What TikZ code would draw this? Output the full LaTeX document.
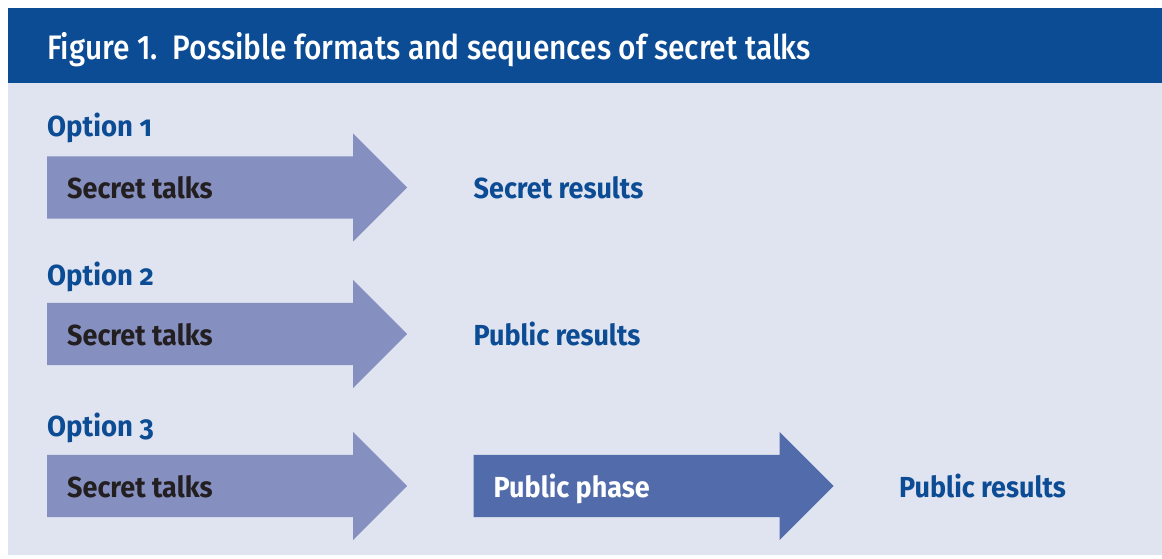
\documentclass[tikz,border=0pt]{standalone}
\usepackage{fontspec}
\setmainfont{Fira Sans}[FakeStretch=0.93]
\newfontfamily\titlefont{Fira Sans Medium}[FakeStretch=0.88]
\newfontfamily\oldnum{Fira Sans}[Numbers=OldStyle,FakeStretch=0.95]
\usetikzlibrary{shapes.arrows,positioning}

\definecolor{headblue}{HTML}{0C4C94}
\definecolor{paleback}{HTML}{E0E4F0}
\definecolor{talkfill}{HTML}{8590C0}
\definecolor{phasefill}{HTML}{516BAB}
\definecolor{talkink}{HTML}{231F20}

\begin{document}
\begin{tikzpicture}[x=1pt,y=-1pt,
    bigarrow/.style={single arrow,anchor=tail,inner xsep=0pt,inner ysep=31pt,minimum height=360pt,
      single arrow head extend=23pt,single arrow tip angle=90},
    inarrow/.style={font=\bfseries\fontsize{29}{34}\selectfont,inner sep=0pt,text depth=0pt,right=20pt},
    optlabel/.style={anchor=base west,inner sep=0pt,text=headblue,font=\oldnum\bfseries\fontsize{29}{34}\selectfont},
    result/.style={inner sep=0pt,text depth=0pt,text=headblue,font=\bfseries\fontsize{29}{34}\selectfont}]
  \useasboundingbox (0,0) rectangle (1162,559);
  \fill[paleback] (8,83) rectangle (1162,555);
  \fill[headblue] (8,8) rectangle (1162,83);
  \node[anchor=base west,inner sep=0pt,text=white,font=\titlefont\fontsize{34}{40}\selectfont] (title) at (47,60)
    {Figure 1.\ \ Possible formats and sequences of secret talks};

  % option 1
  \node[optlabel] (opt1) at (47,137) {Option 1};
  \node[bigarrow,fill=talkfill] (talk1) at (47,187.5) {};
  \node[inarrow,text=talkink] (talktext1) at (talk1.tail) {Secret talks};
  \node[result,right=66pt of talk1.tip] (res1) {Secret results};

  % option 2
  \node[optlabel] (opt2) at (47,285) {Option 2};
  \node[bigarrow,fill=talkfill] (talk2) at (47,334) {};
  \node[inarrow,text=talkink] (talktext2) at (talk2.tail) {Secret talks};
  \node[result,right=66pt of talk2.tip] (res2) {Public results};

  % option 3
  \node[optlabel] (opt3) at (47,436) {Option 3};
  \node[bigarrow,fill=talkfill] (talk3) at (47,486) {};
  \node[inarrow,text=talkink] (talktext3) at (talk3.tail) {Secret talks};
  \node[bigarrow,fill=phasefill,right=66pt of talk3.tip] (phase) {};
  \node[inarrow,text=white] (phasetext) at (phase.tail) {Public phase};
  \node[result,right=65pt of phase.tip] (res3) {Public results};
\end{tikzpicture}
\end{document}
